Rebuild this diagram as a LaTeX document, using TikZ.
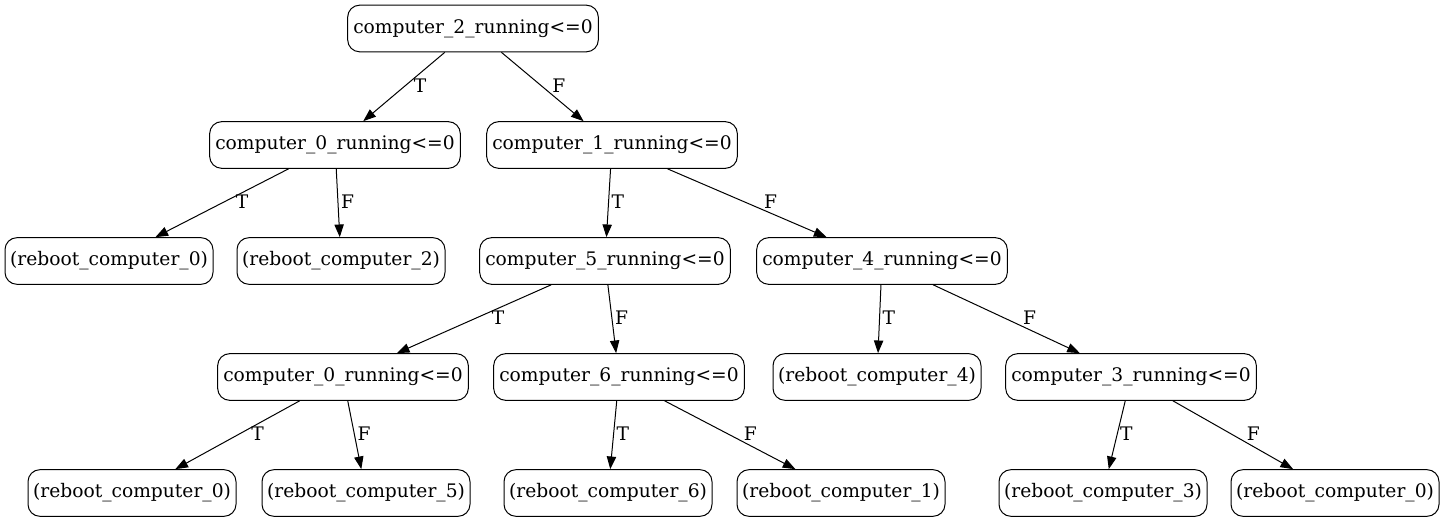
\documentclass[tikz,border=0pt]{standalone}
\usepackage{fontspec}
\setmainfont{DejaVu Serif}
\usetikzlibrary{arrows.meta}
\tikzset{every path/.style={black,line width=0.75pt},
  test/.style={draw,rounded corners=9pt,minimum width=188pt,minimum height=35pt,inner sep=0pt,font=\fontsize{14}{16}\selectfont},
  leaf/.style={test,minimum width=156pt},
  branch/.style={-{Triangle[length=9.5pt,width=7pt]}},
  lbl/.style={midway,right,inner sep=2pt,yshift=1pt,font=\fontsize{14}{16}\selectfont},
  lbls/.style={lbl,xshift=8pt}}

\begin{document}
\begin{tikzpicture}[x=0.75pt,y=-0.75pt]
   \useasboundingbox (0,0) rectangle (1444,523);
   % decision nodes
   \node[test] (r)  at ( 473, 28.5) {computer\_2\_running<=0};
   \node[test] (a)  at ( 335,145) {computer\_0\_running<=0};
   \node[test] (b)  at ( 612,145) {computer\_1\_running<=0};
   \node[test] (ba) at ( 605,261) {computer\_5\_running<=0};
   \node[test] (bb) at ( 882,261) {computer\_4\_running<=0};
   \node[test] (c)  at ( 343,377) {computer\_0\_running<=0};
   \node[test] (d)  at ( 619,377) {computer\_6\_running<=0};
   \node[test] (e)  at (1131,377) {computer\_3\_running<=0};
   % actions
   \node[leaf] (aa) at ( 109,261) {(reboot\_computer\_0)};
   \node[leaf] (ab) at ( 341,261) {(reboot\_computer\_2)};
   \node[leaf] (bc) at ( 877,377) {(reboot\_computer\_4)};
   \node[leaf] (ca) at ( 132,493) {(reboot\_computer\_0)};
   \node[leaf] (cb) at ( 366,493) {(reboot\_computer\_5)};
   \node[leaf] (da) at ( 608,493) {(reboot\_computer\_6)};
   \node[leaf] (db) at ( 841,493) {(reboot\_computer\_1)};
   \node[leaf] (ea) at (1103,493) {(reboot\_computer\_3)};
   \node[leaf] (eb) at (1335,493) {(reboot\_computer\_0)};
   % branches
   \draw[branch] (r)  -- node[lbls,xshift=-3pt] {T} (a);
   \draw[branch] (r)  -- node[lbls,xshift=-3pt] {F} (b);
   \draw[branch] (a)  -- node[lbls] {T} (aa);
   \draw[branch] (a)  -- node[lbl]  {F} (ab);
   \draw[branch] (b)  -- node[lbl]  {T} (ba);
   \draw[branch] (b)  -- node[lbls,xshift=2.5pt] {F} (bb);
   \draw[branch] (ba) -- node[lbls,xshift=3pt] {T} (c);
   \draw[branch] (ba) -- node[lbl]  {F} (d);
   \draw[branch] (bb) -- node[lbl]  {T} (bc);
   \draw[branch] (bb) -- node[lbls,xshift=2pt] {F} (e);
   \draw[branch] (c)  -- node[lbls] {T} (ca);
   \draw[branch] (c)  -- node[lbl]  {F} (cb);
   \draw[branch] (d)  -- node[lbl]  {T} (da);
   \draw[branch] (d)  -- node[lbls] {F} (db);
   \draw[branch] (e)  -- node[lbl]  {T} (ea);
   \draw[branch] (e)  -- node[lbls] {F} (eb);
\end{tikzpicture}
\end{document}
